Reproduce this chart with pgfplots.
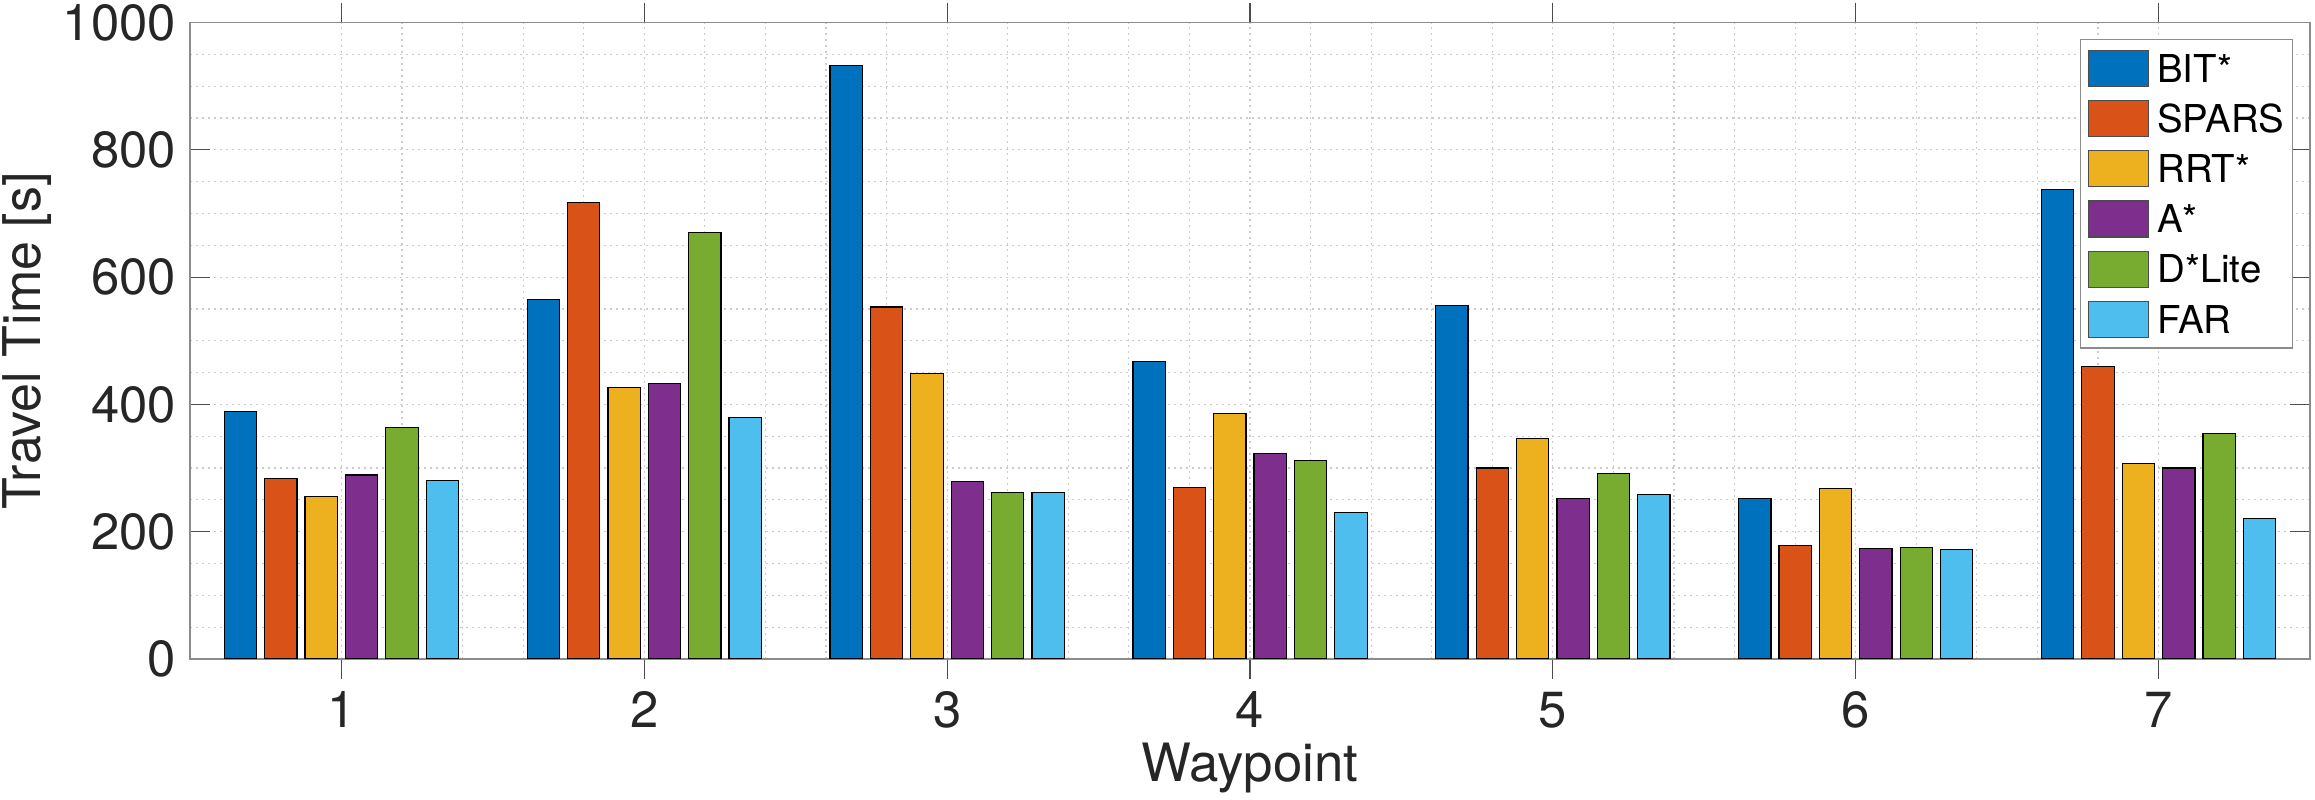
\documentclass[border=0pt]{standalone}
\usepackage{fontspec}
\setmainfont{TeX Gyre Heros}
\usepackage{pgfplots}
\pgfplotsset{compat=1.18}
\definecolor{c1}{rgb}{0,0.447,0.741}
\definecolor{c2}{rgb}{0.850,0.325,0.098}
\definecolor{c3}{rgb}{0.929,0.694,0.125}
\definecolor{c4}{rgb}{0.494,0.184,0.556}
\definecolor{c5}{rgb}{0.466,0.674,0.188}
\definecolor{c6}{rgb}{0.301,0.745,0.933}
\definecolor{labgray}{rgb}{0.15,0.15,0.15}
\pgfplotsset{mybar/.style={fill=#1, draw=black, line width=0.3pt,
  legend image code/.code={\draw[fill=#1,draw=black!70,line width=0.3pt] (0pt,-4.5pt) rectangle (15pt,4.5pt);}}}
\begin{document}
\begin{tikzpicture}
\useasboundingbox (0,0) rectangle (578.75pt,200pt);
\begin{axis}[
  at={(47.5pt,35.25pt)}, anchor=south west,
  scale only axis, width=530pt, height=159.1pt,
  xmin=0.5, xmax=7.5, ymin=0, ymax=1000,
  xtick={1,2,3,4,5,6,7}, xticklabels={1,2,3,4,5,6,7},
  ytick={0,200,400,600,800,1000}, yticklabels={0,200,400,600,800,1000},
  minor x tick num=4, minor y tick num=3,
  grid=both,
  major grid style={black!20, line width=0.3pt, dash pattern=on 0.5pt off 1pt},
  minor grid style={black!20, line width=0.3pt, dash pattern=on 0.5pt off 1pt},
  tick align=inside, xtick pos=both, ytick pos=both,
  major tick length=5pt, minor tick length=0pt,
  tick style={black!70, line width=0.3pt},
  axis line style={black!45, line width=0.4pt},
  ticklabel style={font=\fontsize{12.7}{15}\selectfont, text=labgray},
  xticklabel style={yshift=0.3pt},
  xlabel={Waypoint}, ylabel={Travel Time [s]},
  xlabel style={font=\fontsize{13.2}{15}\selectfont, text=labgray, at={(axis description cs:0.5,0)}, anchor=base, yshift=-30.75pt},
  ylabel style={font=\fontsize{13}{15}\selectfont, text=labgray, at={(axis description cs:-0.0703,0.5)}, anchor=base},
  ybar, bar width=0.1067,
  legend cell align=left,
  legend style={at={(0.992,0.974)}, anchor=north east, draw=black!45, line width=0.3pt, fill=white,
    inner xsep=2pt, inner ysep=2.5pt, row sep=3.25pt, column sep=2pt,
    nodes={inner sep=0pt, text height=6.9pt, text depth=0pt, font=\fontsize{9.6}{11}\selectfont, text=black}},
]
\addplot[mybar=c1, bar shift=-0.3333] coordinates {(1,389) (2,565) (3,933) (4,467) (5,556) (6,252) (7,738)};
\addplot[mybar=c2, bar shift=-0.2] coordinates {(1,284) (2,717) (3,553) (4,269) (5,300) (6,178) (7,459)};
\addplot[mybar=c3, bar shift=-0.0667] coordinates {(1,255) (2,427) (3,448) (4,386) (5,347) (6,268) (7,307)};
\addplot[mybar=c4, bar shift=0.0667] coordinates {(1,289) (2,433) (3,279) (4,323) (5,252) (6,173) (7,300)};
\addplot[mybar=c5, bar shift=0.2] coordinates {(1,364) (2,670) (3,262) (4,312) (5,291) (6,175) (7,354)};
\addplot[mybar=c6, bar shift=0.3333] coordinates {(1,280) (2,380) (3,261) (4,230) (5,259) (6,172) (7,221)};
\legend{BIT*,SPARS,RRT*,A*,D*Lite,FAR}
\end{axis}
\end{tikzpicture}
\end{document}
